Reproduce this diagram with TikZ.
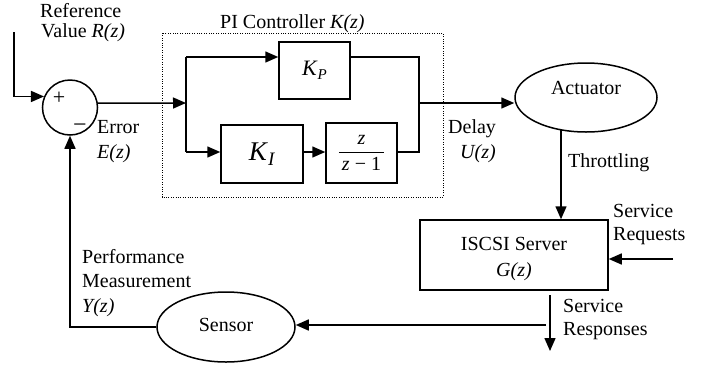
\documentclass[tikz,border=0pt]{standalone}
\usepackage{fontspec}
\setmainfont{Liberation Serif}
\usetikzlibrary{arrows.meta,shapes.geometric}
\begin{document}
\begin{tikzpicture}[x=1pt,y=-1pt,
  line/.style={line width=1.5pt},
  arr/.style={line width=1.5pt,-{Triangle[length=13pt,width=11pt]}},
  blk/.style={draw,line width=1.5pt,rectangle,inner sep=0pt},
  oval/.style={draw,line width=1.5pt,ellipse,inner sep=0pt},
  lbl/.style={font=\fontsize{20}{22}\selectfont,inner sep=0pt,anchor=base west},
  ctr/.style={font=\fontsize{20}{22}\selectfont,inner sep=0pt},
]
\useasboundingbox (0,0) rectangle (712,365);

% PI controller frame
\draw[line width=0.9pt,dash pattern=on 1pt off 1.4pt] (162,33) rectangle (443,197);

% blocks
\node[circle,draw,line width=1.5pt,minimum size=55pt,inner sep=0pt] (sum) at (70,107.5) {};
\node[blk,minimum width=71pt,minimum height=57pt] (KP) at (314.5,70.5)
  {\fontsize{22}{22}\selectfont\textit{K}\raisebox{-0.35ex}{\fontsize{15}{15}\selectfont\textit{P}}};
\node[blk,minimum width=82pt,minimum height=58pt] (KI) at (262,154)
  {\fontsize{27}{27}\selectfont\textit{K}\raisebox{-0.35ex}{\fontsize{19}{19}\selectfont\textit{I}}};
\node[blk,minimum width=71pt,minimum height=60pt] (frac) at (361.5,153)
  {\raisebox{-4pt}{\fontsize{20}{22}\selectfont\setlength{\tabcolsep}{3pt}\renewcommand{\arraystretch}{1.05}%
   \begin{tabular}{c}\textit{z}\\[1pt]\hline\rule{0pt}{18pt}\textit{z} − 1\end{tabular}}};
\node[blk,minimum width=188pt,minimum height=70pt] (server) at (514,255) {};
\node[oval,minimum width=142pt,minimum height=69pt] (act) at (586,97.5) {};
\node[oval,minimum width=138pt,minimum height=70pt] (sensor) at (226,327) {};

% texts
\node[lbl] (t1) at (40,17) {Reference};
\node[lbl] (t2) at (41,37) {Value \textit{R(z)}};
\node[lbl] (t3) at (220,28) {PI Controller \textit{K(z)}};
\node[ctr,font=\fontsize{22}{22}\selectfont] (plus) at (59,98) {+};
\node[ctr,font=\fontsize{24}{24}\selectfont] (minus) at (80,128) {−};
\node[lbl] (t4) at (97,133) {Error};
\node[lbl] (t5) at (97,158) {\textit{E(z)}};
\node[lbl] (t6) at (448,133) {Delay};
\node[lbl] (t7) at (460,158) {\textit{U(z)}};
\node[ctr,anchor=base] (t8) at (586,94) {Actuator};
\node[lbl] (t9) at (568,167) {Throttling};
\node[ctr,anchor=base] (t10) at (514,250) {ISCSI Server};
\node[ctr,anchor=base] (t11) at (514,276) {\textit{G(z)}};
\node[lbl] (t12) at (613,217) {Service};
\node[lbl] (t13) at (613,240) {Requests};
\node[lbl] (t14) at (563,312) {Service};
\node[lbl] (t15) at (563,335) {Responses};
\node[lbl] (t16) at (82,263) {Performance};
\node[lbl] (t17) at (82,287) {Measurement};
\node[lbl] (t18) at (82,312) {\textit{Y(z)}};
\node[ctr] (t19) at (226,325) {Sensor};

% coordinates
\coordinate (refstart) at (14,32);
\coordinate (split) at (186,103);
\coordinate (top) at (186,57);
\coordinate (bot) at (186,152);
\coordinate (mtop) at (419,57);
\coordinate (mbot) at (419,152);
\coordinate (merge) at (419,103);
\coordinate (thr) at (561,130);
\coordinate (reqin) at (673,259);
\coordinate (resp) at (550,295);
\coordinate (respend) at (550,351);
\coordinate (fb) at (546,325);

% connectors
\draw[arr] (refstart) |- (sum.157.6);
\draw[arr] (sum.9.4) -- (split);
\draw[line] (top) -- (bot);
\draw[arr] (top) -- (top -| KP.west);
\draw[arr] (bot) -- (bot -| KI.west);
\draw[arr] (bot -| KI.east) -- (bot -| frac.west);
\draw[line] (top -| KP.east) -- (mtop) -- (mbot) -- (bot -| frac.east);
\draw[arr] (merge) -- (merge -| act.west);
\draw[arr] (thr) -- (thr |- server.north);
\draw[arr] (reqin) -- (reqin -| server.east);
\draw[arr] (resp) -- (respend);
\draw[arr] (fb) -- (fb -| sensor.east);
\draw[arr] (sensor.west) -| (sum.south);
\end{tikzpicture}
\end{document}
